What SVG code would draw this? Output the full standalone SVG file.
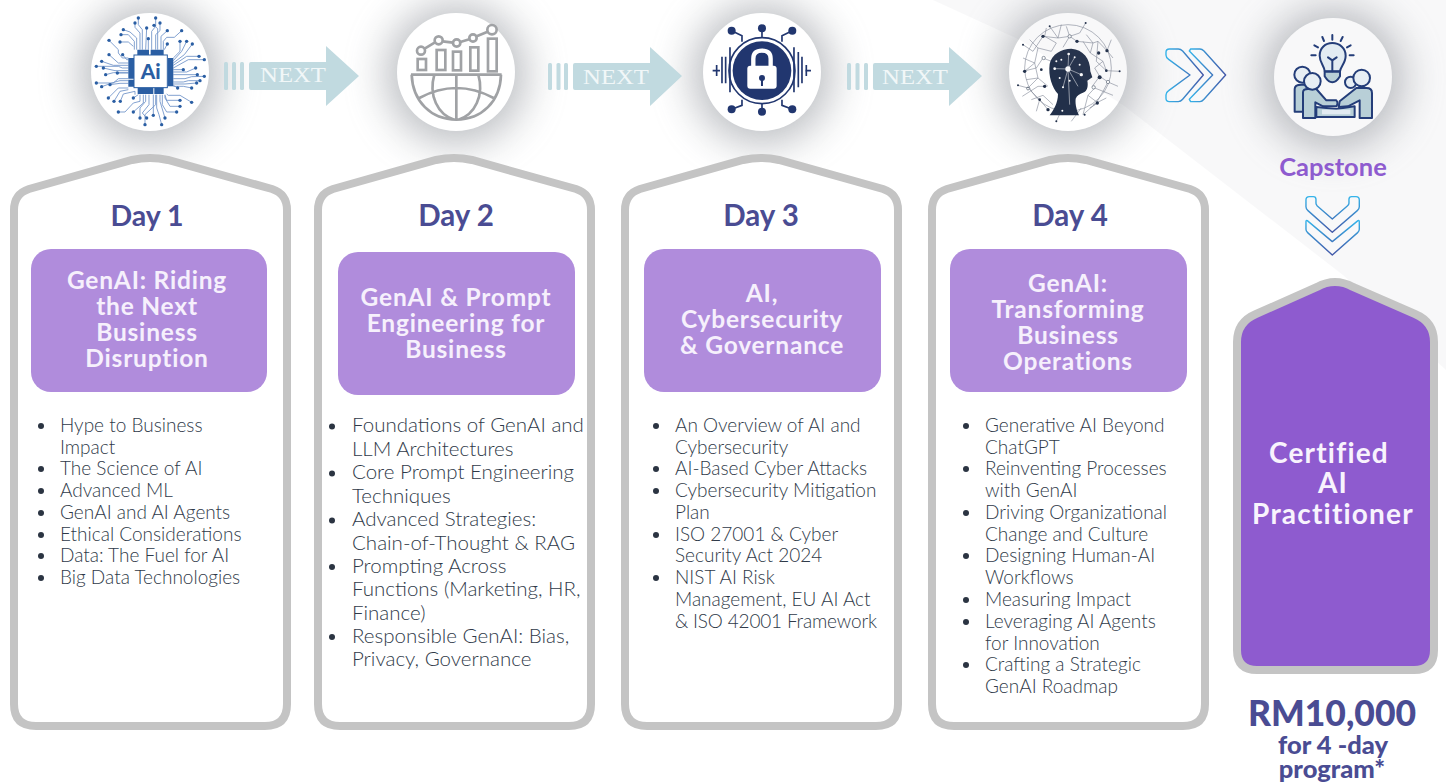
<svg xmlns="http://www.w3.org/2000/svg" width="1446" height="782" viewBox="0 0 1446 782">
<style>
text{font-family:"Lato","Noto Sans",sans-serif}
.card{fill:#fff;stroke:#c4c4c4;stroke-width:8}
.box{fill:#b08cdc}
.day{font-size:29.500px;font-weight:700;fill:#4a4c93;text-anchor:middle}
.tt{font-size:24.5px;font-weight:700;fill:#f6f0fc;text-anchor:middle;letter-spacing:.8px}
.li{font-size:19px;font-weight:300;fill:#2f3a49}
.li2{font-size:20.5px;font-weight:300;fill:#2f3a49}
.bu{fill:#2b3442}
.nx{fill:#c1dae0}
.nt{font-family:"Liberation Serif",serif;font-size:20px;fill:#f1f7f8}
.sh{fill:#83878f;opacity:.55;filter:url(#b)}
.tr{fill:none;stroke:#6f93c9;stroke-width:2.6}
.dt{fill:#2a5ea3}
.gl{fill:none;stroke:#a0a2a5;stroke-width:8}
.ln{fill:none;stroke:#1f3a78;stroke-width:6;stroke-linejoin:round;stroke-linecap:round}
.nw{fill:none;stroke:#7f8795;stroke-width:1.8}
.ch{fill:none;stroke-linejoin:round}
</style>
<defs>
<filter id="b" x="-80%" y="-80%" width="260%" height="260%"><feGaussianBlur stdDeviation="20"/></filter>
<linearGradient id="g1" x1="0" y1="0" x2="1" y2="0"><stop offset="0" stop-color="#35b4ea"/><stop offset="1" stop-color="#4458a8"/></linearGradient>
<linearGradient id="g2" x1="0" y1="0" x2="0" y2="1"><stop offset="0" stop-color="#35b4ea"/><stop offset="1" stop-color="#4458a8"/></linearGradient>
<path id="cardp" d="M4 54Q4 38 19 33L122 4Q140 0 158 4L262 33Q277 38 277 54V548Q277 570 255 570H26Q4 570 4 548Z"/>
</defs>
<rect width="1446" height="782" fill="#fff"/>

<g id="shadows">
<circle class="sh" cx="150" cy="74" r="70"/>
<circle class="sh" cx="456" cy="74" r="70"/>
<circle class="sh" cx="762" cy="74" r="70"/>
<circle class="sh" cx="1068" cy="74" r="70"/>
<circle class="sh" cx="1333" cy="79" r="70"/>
</g>

<g id="icon1">
<circle cx="150" cy="72" r="59" fill="#fff"/>
<g transform="translate(85 8) scale(.3333)">
<path class="tr" d="M160 30V50L172 65V125M212 30V55L200 70V125M150 45V58L165 75V125M225 45V68L212 80V125M185 60L182 125M207 52L218 62V125M115 65L135 72L155 90V125M108 80H130L148 100V125M247 68L228 85V125M290 68L268 88H245L235 100V125M105 102H130L145 115M72 97L100 125V135L112 150H130M190 92V125M247 108L238 125M285 100V130L265 150M305 100L290 130L265 158M322 108L298 140L265 165M342 145H305L265 172M358 155H310L265 180M72 140L100 165H130M113 140L125 155H130M50 160L85 172H130M34 175H100L112 180H130M55 180L90 188H130M62 200L85 194H130M97 195H130M34 225H85L100 212H130M50 236L90 222L105 218H130M75 230L105 226H130M295 185H265M332 180L305 192H265M337 200H265M358 205L320 206L300 212H265M345 218H310L295 222H265M335 225L300 228H265M278 240L265 232M320 240L295 235H265M70 270L100 240H130M87 280L105 250L130 245M106 280L115 258L150 250V260M145 270L160 260M100 312H120L145 285L165 280V260M145 312L175 285V260M165 330V300L182 280V260M185 330L172 315L192 290V260M205 322V260M180 350V320L212 290V260M230 350L222 320L215 300V260M240 330L225 280V260M275 312H245L232 290V260M285 295H255L240 270V260M285 277H245L240 262M320 283L285 262H250L245 258"/>
<g class="dt"><circle cx="160" cy="30" r="5"/><circle cx="212" cy="30" r="5"/><circle cx="150" cy="45" r="5"/><circle cx="225" cy="45" r="5"/><circle cx="185" cy="60" r="5"/><circle cx="207" cy="52" r="5"/><circle cx="115" cy="65" r="5"/><circle cx="108" cy="80" r="5"/><circle cx="247" cy="68" r="5"/><circle cx="290" cy="68" r="5"/><circle cx="105" cy="102" r="5"/><circle cx="72" cy="97" r="5"/><circle cx="190" cy="92" r="5"/><circle cx="247" cy="108" r="5"/><circle cx="285" cy="100" r="5"/><circle cx="305" cy="100" r="5"/><circle cx="322" cy="108" r="5"/><circle cx="342" cy="145" r="5"/><circle cx="358" cy="155" r="5"/><circle cx="72" cy="140" r="5"/><circle cx="113" cy="140" r="5"/><circle cx="50" cy="160" r="5"/><circle cx="34" cy="175" r="5"/><circle cx="55" cy="180" r="5"/><circle cx="62" cy="200" r="5"/><circle cx="97" cy="195" r="5"/><circle cx="34" cy="225" r="5"/><circle cx="50" cy="236" r="5"/><circle cx="75" cy="230" r="5"/><circle cx="295" cy="185" r="5"/><circle cx="332" cy="180" r="5"/><circle cx="337" cy="200" r="5"/><circle cx="358" cy="205" r="5"/><circle cx="345" cy="218" r="5"/><circle cx="335" cy="225" r="5"/><circle cx="278" cy="240" r="5"/><circle cx="320" cy="240" r="5"/><circle cx="70" cy="270" r="5"/><circle cx="87" cy="280" r="5"/><circle cx="106" cy="280" r="5"/><circle cx="145" cy="270" r="5"/><circle cx="100" cy="312" r="5"/><circle cx="145" cy="312" r="5"/><circle cx="165" cy="330" r="5"/><circle cx="185" cy="330" r="5"/><circle cx="205" cy="322" r="5"/><circle cx="180" cy="350" r="5"/><circle cx="230" cy="350" r="5"/><circle cx="240" cy="330" r="5"/><circle cx="275" cy="312" r="5"/><circle cx="285" cy="295" r="5"/><circle cx="285" cy="277" r="5"/><circle cx="320" cy="283" r="5"/></g>
<path d="M157 125H192V142H157ZM197 125H236V142H197ZM130 150H147V212H130ZM248 150H265V235H248ZM130 215H147V236H130ZM158 238H205V258H158ZM208 238H236V258H208Z" fill="#2a5ea3"/>
<rect x="147" y="141" width="100" height="98" fill="#fff" stroke="#2a5ea3" stroke-width="3"/>
<text x="197" y="212" fill="#2a5ea3" text-anchor="middle" style="font-size:62px;font-weight:900">Ai</text>
</g>
</g>

<g id="icon2">
<circle cx="456" cy="72" r="59" fill="#fff"/>
<g transform="translate(391 8) scale(.3333)" class="gl">
<rect x="80" y="153" width="25" height="33"/><rect x="137" y="126" width="26" height="60"/><rect x="186" y="131" width="24" height="56"/><rect x="238" y="118" width="24" height="70"/><rect x="291" y="92" width="26" height="98"/>
<circle cx="90" cy="128" r="12"/><circle cx="143" cy="97" r="12"/><circle cx="197" cy="105" r="11"/><circle cx="246" cy="90" r="11"/><circle cx="303" cy="65" r="14"/>
<path d="M101 122L132 103M155 100L186 104M208 102L235 94M257 85L290 71"/>
<path d="M60 200H332M62 200C65 280 120 335 196 335C272 335 328 280 330 200M196 200V335M130 200C112 262 140 320 190 335M262 200C280 262 252 320 202 335M85 270Q196 210 308 270"/>
</g>
</g>

<g id="icon3">
<circle cx="762" cy="72" r="59" fill="#fff"/>
<g transform="translate(540 0) scale(.3333)">
<circle cx="666" cy="212" r="88" fill="#21366f"/>
<circle cx="666" cy="212" r="99" fill="none" stroke="#21366f" stroke-width="5"/>
<path d="M640 200V176C640 160 650 152 666 152C682 152 692 160 692 176V200" fill="none" stroke="#fff" stroke-width="13"/>
<rect x="622" y="197" width="88" height="69" rx="9" fill="#fff"/>
<circle cx="666" cy="234" r="9" fill="#21366f"/><rect x="663" y="234" width="6" height="24" fill="#21366f"/>
<path d="M606 125V107L575 92M666 112V85M726 125V107L757 92M606 299V316L575 328M666 312V335M726 299V316L757 328M570 142V277M762 142V277M557 170V250M546 170V250M775 156V262M786 170V250M518 212H540M530 195V228M796 212H813M799 195V228" fill="none" stroke="#21366f" stroke-width="5"/>
<g fill="#21366f"><circle cx="575" cy="92" r="12"/><circle cx="666" cy="85" r="12"/><circle cx="757" cy="92" r="12"/><circle cx="575" cy="328" r="12"/><circle cx="666" cy="335" r="12"/><circle cx="757" cy="328" r="12"/></g>
</g>
</g>

<g id="icon4">
<circle cx="1068" cy="72" r="59" fill="#fff"/>
<g transform="translate(1003 8) scale(.3333)">
<circle class="nw" cx="195" cy="180" r="130"/>
<path class="nw" d="M140 55L165 90L120 85L90 130L60 110M248 45L230 75L200 85L165 90M200 85L222 100L270 105L285 100L312 128L330 150M60 190L100 180L120 150L145 160M45 232L75 240L105 210L135 235M75 240L110 275L135 305M58 265L105 235L125 235M300 160L310 188L350 190M290 205L315 222L345 235M275 240L300 250L280 285L240 320M255 262L285 285L260 300M125 85L160 105L145 130M235 300L205 340M160 340L175 308M105 210L95 165L65 190M285 100L280 160L310 188M80 95L105 120L95 165M130 60L125 85M190 55L200 85L180 118M250 80L270 105L262 135M105 120L145 130M262 135L300 160L275 180M275 180L290 205L268 235M85 275L120 262L150 290M300 250L330 262M315 222L300 250M60 150L95 165M325 95L312 128M240 320L255 262L275 240M110 275L100 310M175 50L165 90M240 100L262 135M70 215L105 210M270 290L310 270"/>
<path d="M140 322C152 305 165 285 165 258C148 240 135 205 140 168C146 138 176 122 205 122C240 124 262 152 262 190L268 208L253 218C256 232 254 250 240 254C230 258 222 262 218 272C216 290 222 308 228 322Z" fill="#22304a"/>
<g fill="#fff"><circle cx="195" cy="183" r="8"/><circle cx="197" cy="138" r="4"/><circle cx="155" cy="182" r="4"/><circle cx="175" cy="155" r="3"/><circle cx="215" cy="148" r="3"/><circle cx="235" cy="200" r="5"/><circle cx="180" cy="238" r="3"/><circle cx="200" cy="218" r="3"/><circle cx="170" cy="210" r="3"/><circle cx="178" cy="308" r="3"/><circle cx="230" cy="170" r="3"/><circle cx="160" cy="160" r="3"/></g>
<path d="M195 183L197 138M195 183L155 182M195 183L235 200M195 183L180 238M195 183L215 148M195 183L200 290M195 183L225 235" stroke="#fff" stroke-width="1.500" fill="none"/>
<g fill="#22304a"><circle cx="120" cy="85" r="5"/><circle cx="222" cy="100" r="5"/><circle cx="312" cy="128" r="5"/><circle cx="65" cy="190" r="5"/><circle cx="125" cy="235" r="5"/><circle cx="135" cy="305" r="5"/><circle cx="290" cy="208" r="6"/><circle cx="283" cy="285" r="5"/><circle cx="110" cy="275" r="4"/><circle cx="310" cy="188" r="4"/><circle cx="287" cy="135" r="5"/><circle cx="115" cy="185" r="4"/><circle cx="75" cy="240" r="4"/><circle cx="245" cy="320" r="3"/><circle cx="140" cy="55" r="3"/><circle cx="248" cy="45" r="3"/><circle cx="350" cy="190" r="3"/><circle cx="45" cy="232" r="3"/><circle cx="60" cy="110" r="3"/><circle cx="160" cy="340" r="3"/></g>
<g fill="#fff" stroke="#5b6676" stroke-width="2"><circle cx="200" cy="85" r="5"/><circle cx="122" cy="150" r="5"/><circle cx="315" cy="222" r="5"/><circle cx="272" cy="238" r="5"/><circle cx="75" cy="242" r="4"/></g>
</g>
</g>

<g id="icon5">
<circle cx="1333" cy="77" r="59" fill="#fff"/>
<g transform="translate(1268 13) scale(.3333)">
<path class="ln" d="M163 72L168 84M193 66V80M224 72L218 84M139 97L150 103M248 97L237 103M130 127H143M245 127H257" />
<path class="ln" style="fill:#e8f2f8" d="M170 175C170 160 155 150 155 128C155 105 172 90 193 90C214 90 233 105 233 128C233 150 218 160 216 175Z"/>
<path class="ln" style="fill:#bcd4dc" d="M170 176H216V190Q205 208 193 208Q181 208 170 190Z"/>
<path class="ln" d="M180 133L193 142L206 133M193 142V175"/>
<path class="ln" style="fill:#bcd4dc" d="M80 296V228Q80 215 100 215H125V296Z"/>
<circle class="ln" cx="103" cy="185" r="24" style="fill:#eef5fa"/>
<path class="ln" style="fill:#bcd4dc" d="M105 315V238Q105 228 120 228H145L175 262H205Q212 270 205 280H165L142 268V315Z"/>
<circle class="ln" cx="133" cy="205" r="25" style="fill:#eef5fa"/>
<circle class="ln" cx="248" cy="208" r="17" style="fill:#eef5fa"/>
<path class="ln" style="fill:#bcd4dc" d="M312 315V240Q312 225 295 225H265L215 265L212 282L240 280L275 262V315Z"/>
<circle class="ln" cx="281" cy="195" r="25" style="fill:#eef5fa"/>
<path class="ln" style="fill:#bcd4dc" d="M145 282L205 288L260 280V312H145Z"/>
<rect x="162" y="290" width="85" height="14" fill="#e8f2f8"/>
</g>
</g>

<path id="bgdiag" d="M933 0L1020 40L1123 105L1343 275L1446 370V0Z" fill="#7e8590" opacity=".055"/>

<g id="connectors">
<g id="next1"><rect class="nx" x="224" y="62" width="4" height="28" rx="1.5"/><rect class="nx" x="232" y="62" width="4" height="28" rx="1.5"/><rect class="nx" x="240" y="62" width="4" height="28" rx="1.5"/><path class="nx" d="M251 62H326V46L359 76L326 106V90H251Q249 90 249 88V64Q249 62 251 62Z"/><text class="nt" x="260" y="82" textLength="66" lengthAdjust="spacingAndGlyphs">NEXT</text></g>
<g id="next2"><rect class="nx" x="548" y="63" width="4" height="27" rx="1.5"/><rect class="nx" x="556.500" y="63" width="4" height="27" rx="1.500"/><rect class="nx" x="564" y="63" width="4" height="27" rx="1.5"/><path class="nx" d="M575 63H650V47L682 76L650 106V90H575Q573 90 573 88V65Q573 63 575 63Z"/><text class="nt" x="583" y="84" textLength="66" lengthAdjust="spacingAndGlyphs">NEXT</text></g>
<g id="next3"><rect class="nx" x="847" y="63" width="4" height="27" rx="1.5"/><rect class="nx" x="855.500" y="63" width="4" height="27" rx="1.500"/><rect class="nx" x="864" y="63" width="4" height="27" rx="1.5"/><path class="nx" d="M875 63H949V47L982 76L949 106V90H875Q873 90 873 88V65Q873 63 875 63Z"/><text class="nt" x="882" y="84" textLength="66" lengthAdjust="spacingAndGlyphs">NEXT</text></g>
<g transform="translate(1000 0) scale(.3333)">
<path class="ch" stroke-width="4.200" stroke="url(#g1)" d="M508 147H535Q542 147 548 153L610 225L548 298Q542 305 535 305H508Q498 305 498 295V285Q498 277 506 272L570 225L506 178Q498 173 498 165V157Q498 147 508 147Z"/>
<path class="ch" stroke-width="4.200" stroke="url(#g1)" d="M572 147H600Q606 147 612 153L677 225L612 298Q606 305 600 305H572L568 298L638 225L568 153Z"/>
<path class="ch" stroke-width="4.200" stroke="url(#g2)" d="M918 600Q918 590 928 590H940Q948 590 948 598V610Q948 614 952 618L997 657L1042 618Q1047 614 1047 610V598Q1047 590 1055 590H1068Q1078 590 1078 600V620Q1078 627 1072 632L997 697L924 632Q918 627 918 620Z"/>
<path class="ch" stroke-width="4.200" stroke="url(#g2)" d="M918 665Q918 660 922 662L997 725L1074 662Q1078 660 1078 665V688Q1078 694 1073 698L997 765L923 698Q918 694 918 688Z"/>
</g>
</g>

<g id="day1" transform="translate(10 156)">
<use href="#cardp" class="card"/>
<rect class="box" x="21" y="93" width="236" height="143" rx="20"/>
</g>
<g id="day2" transform="translate(314 156)">
<use href="#cardp" class="card"/>
<rect class="box" x="24" y="96" width="237" height="143" rx="20"/>
</g>
<g id="day3" transform="translate(621 156)">
<use href="#cardp" class="card"/>
<rect class="box" x="23" y="93" width="237" height="143" rx="20"/>
</g>
<g id="day4" transform="translate(928 156)">
<use href="#cardp" class="card"/>
<rect class="box" x="22" y="93" width="237" height="143" rx="20"/>
</g>

<g id="day1text">
<text class="day" x="147" y="226" style="font-size:28.5px">Day 1</text>
<text class="tt" x="147" y="289">GenAI: Riding</text><text class="tt" x="147" y="315">the Next</text><text class="tt" x="147" y="341">Business</text><text class="tt" x="147" y="367">Disruption</text>
<g class="li"><text x="60" y="432">Hype to Business</text><text x="60" y="454">Impact</text><text x="60" y="475">The Science of AI</text><text x="60" y="497">Advanced ML</text><text x="60" y="519">GenAI and AI Agents</text><text x="60" y="541">Ethical Considerations</text><text x="60" y="562">Data: The Fuel for AI</text><text x="60" y="584">Big Data Technologies</text></g>
<g class="bu"><circle cx="41" cy="426" r="3"/><circle cx="41" cy="469" r="3"/><circle cx="41" cy="491" r="3"/><circle cx="41" cy="513" r="3"/><circle cx="41" cy="535" r="3"/><circle cx="41" cy="556" r="3"/><circle cx="41" cy="578" r="3"/></g>
</g>
<g id="day2text">
<text class="day" x="456" y="226">Day 2</text>
<text class="tt" x="456" y="306">GenAI &amp; Prompt</text><text class="tt" x="456" y="332">Engineering for</text><text class="tt" x="456" y="358">Business</text>
<g class="li2"><text x="352" y="432">Foundations of GenAI and</text><text x="352" y="456">LLM Architectures</text><text x="352" y="479">Core Prompt Engineering</text><text x="352" y="503">Techniques</text><text x="352" y="526">Advanced Strategies:</text><text x="352" y="550">Chain-of-Thought &amp; RAG</text><text x="352" y="573">Prompting Across</text><text x="352" y="596">Functions (Marketing, HR,</text><text x="352" y="620">Finance)</text><text x="352" y="643">Responsible GenAI: Bias,</text><text x="352" y="666">Privacy, Governance</text></g>
<g class="bu"><circle cx="332" cy="426.500" r="3"/><circle cx="332" cy="473.500" r="3"/><circle cx="332" cy="520.500" r="3"/><circle cx="332" cy="567" r="3"/><circle cx="332" cy="637" r="3"/></g>
</g>
<g id="day3text">
<text class="day" x="761" y="226">Day 3</text>
<text class="tt" x="762" y="302">AI,</text><text class="tt" x="762" y="328">Cybersecurity</text><text class="tt" x="762" y="354">&amp; Governance</text>
<g class="li"><text x="675" y="432">An Overview of AI and</text><text x="675" y="454">Cybersecurity</text><text x="675" y="475">AI-Based Cyber Attacks</text><text x="675" y="497">Cybersecurity Mitigation</text><text x="675" y="519">Plan</text><text x="675" y="541">ISO 27001 &amp; Cyber</text><text x="675" y="562">Security Act 2024</text><text x="675" y="584">NIST AI Risk</text><text x="675" y="606">Management, EU AI Act</text><text x="675" y="628" textLength="202">&amp; ISO 42001 Framework</text></g>
<g class="bu"><circle cx="656" cy="426" r="3"/><circle cx="656" cy="469" r="3"/><circle cx="656" cy="491" r="3"/><circle cx="656" cy="535" r="3"/><circle cx="656" cy="578" r="3"/></g>
</g>
<g id="day4text">
<text class="day" x="1070" y="226">Day 4</text>
<text class="tt" x="1068" y="292">GenAI:</text><text class="tt" x="1068" y="318">Transforming</text><text class="tt" x="1068" y="344">Business</text><text class="tt" x="1068" y="370">Operations</text>
<g class="li"><text x="985" y="432">Generative AI Beyond</text><text x="985" y="454">ChatGPT</text><text x="985" y="475">Reinventing Processes</text><text x="985" y="497">with GenAI</text><text x="985" y="519">Driving Organizational</text><text x="985" y="541">Change and Culture</text><text x="985" y="562">Designing Human-AI</text><text x="985" y="584">Workflows</text><text x="985" y="606">Measuring Impact</text><text x="985" y="628">Leveraging AI Agents</text><text x="985" y="650">for Innovation</text><text x="985" y="671">Crafting a Strategic</text><text x="985" y="693">GenAI Roadmap</text></g>
<g class="bu"><circle cx="966" cy="426" r="3"/><circle cx="966" cy="469" r="3"/><circle cx="966" cy="513" r="3"/><circle cx="966" cy="556" r="3"/><circle cx="966" cy="600" r="3"/><circle cx="966" cy="622" r="3"/><circle cx="966" cy="665" r="3"/></g>
</g>

<g id="capstone">
<text x="1333" y="176" font-size="25.500" font-weight="700" fill="#8e5bcf" text-anchor="middle">Capstone</text>
<path d="M1237 342Q1237 322 1256 314L1317 287Q1335 277 1353 287L1415 314Q1434 322 1434 342V650Q1434 670 1414 670H1257Q1237 670 1237 650Z" fill="#8e5bcf" stroke="#c4c4c4" stroke-width="8"/>
<text x="1329" y="463" font-size="28" font-weight="700" fill="#f8f3fd" text-anchor="middle" letter-spacing="1.200">Certified</text>
<text x="1333" y="493" font-size="28" font-weight="700" fill="#f8f3fd" text-anchor="middle" letter-spacing="1.200">AI</text>
<text x="1333" y="524" font-size="28" font-weight="700" fill="#f8f3fd" text-anchor="middle" letter-spacing="1.200">Practitioner</text>
</g>
<g id="price" fill="#4a4c93" text-anchor="middle">
<text x="1332" y="726" font-size="35.500" style="font-weight:900">RM10,000</text>
<text x="1333" y="754" font-size="25.500" style="font-weight:900">for 4 -day</text>
<text x="1332" y="778" font-size="25.500" style="font-weight:900">program*</text>
</g>
</svg>
